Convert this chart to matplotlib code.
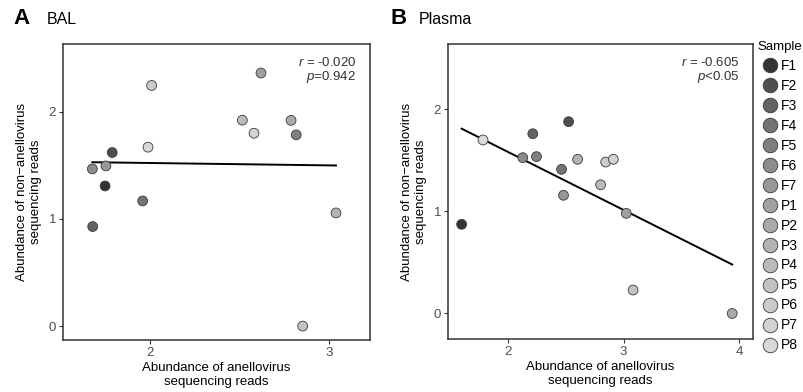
import numpy as np
import matplotlib
matplotlib.use("Agg")
import matplotlib.pyplot as plt
from matplotlib.lines import Line2D

plt.rcParams['font.family'] = ['Liberation Sans', 'DejaVu Sans']
plt.rcParams['mathtext.fontset'] = 'custom'
plt.rcParams['mathtext.rm'] = 'Liberation Sans'
plt.rcParams['mathtext.it'] = 'Liberation Sans:italic'

# --- data ---
samples = ['F1', 'F2', 'F3', 'F4', 'F5', 'F6', 'F7',
           'P1', 'P2', 'P3', 'P4', 'P5', 'P6', 'P7', 'P8']

# BAL: x / y per sample (same order as samples)
bal_x = [1.749, 1.789, 1.680, 1.959, 2.817, 1.678, 1.754,
         2.620, 2.788, 3.039, 2.516, 2.853, 2.009, 2.581, 1.989]
bal_y = [1.308, 1.620, 0.929, 1.168, 1.785, 1.467, 1.495,
         2.362, 1.920, 1.056, 1.922, 0.000, 2.246, 1.800, 1.670]

# Plasma
pla_x = [1.598, 2.524, 2.214, 2.463, 2.246, 2.127, 2.480,
         3.023, 3.940, 2.602, 2.801, 3.082, 2.845, 2.911, 1.783]
pla_y = [0.872, 1.876, 1.758, 1.410, 1.534, 1.524, 1.156,
         0.979, 0.000, 1.508, 1.259, 0.229, 1.481, 1.508, 1.697]

bal_stats = ['-0.020', '=0.942']
pla_stats = ['-0.605', '<0.05']

# ggplot-like grey scale
lv = np.linspace(0.2 ** 2.2, 0.85 ** 2.2, len(samples)) ** (1 / 2.2)
colors = [(v, v, v) for v in lv]

W, H = 804, 392
fig = plt.figure(figsize=(W / 100, H / 100), dpi=100)


def add_axes(l, r, t, b):
    return fig.add_axes([l / W, 1 - b / H, (r - l) / W, (b - t) / H])


def draw_panel(ax, x, y, stats, xlim, ylim, xticks):
    x = np.array(x)
    y = np.array(y)
    k, c = np.polyfit(x, y, 1)
    xs = np.array([x.min(), x.max()])
    ax.plot(xs, k * xs + c, color='black', lw=1.4, zorder=2)
    ax.scatter(x, y, s=50, c=colors, edgecolors='#3a3a3a', linewidths=0.6, zorder=3)
    ax.set_xlim(xlim)
    ax.set_ylim(ylim)
    ax.set_xticks(xticks)
    ax.set_yticks([0, 1, 2])
    for sp in ax.spines.values():
        sp.set_color('#333333')
        sp.set_linewidth(1.1)
    ax.tick_params(length=3, width=0.8, color='#333333', labelcolor='#4d4d4d', labelsize=9.5, pad=2)
    ax.set_xlabel('Abundance of anellovirus\nsequencing reads', fontsize=9.5, labelpad=2)
    ax.set_ylabel('Abundance of non\u2212anellovirus\nsequencing reads', fontsize=9.5, labelpad=5)
    ax.text(0.955, 0.937, r'$\it{r}$ = ' + stats[0], transform=ax.transAxes,
            ha='right', va='center', fontsize=9.5, color='#333333')
    ax.text(0.955, 0.887, r'$\it{p}$' + stats[1], transform=ax.transAxes,
            ha='right', va='center', fontsize=9.5, color='#333333')


axA = add_axes(63, 370, 44, 340)
draw_panel(axA, bal_x, bal_y, bal_stats, (1.514, 3.229), (-0.13, 2.633), [2, 3])
axB = add_axes(448, 753, 44, 339)
draw_panel(axB, pla_x, pla_y, pla_stats, (1.48, 4.12), (-0.25, 2.636), [2, 3, 4])

fig.text(13 / W, 1 - 18 / H, 'A', fontsize=16, fontweight='bold', va='center')
fig.text(47 / W, 1 - 19 / H, 'BAL', fontsize=11.5, va='center')
fig.text(391 / W, 1 - 18 / H, 'B', fontsize=16, fontweight='bold', va='center')
fig.text(419 / W, 1 - 19 / H, 'Plasma', fontsize=11.5, va='center')

handles = [Line2D([], [], marker='o', ls='', markersize=10.5, markerfacecolor=col,
                  markeredgecolor='#3a3a3a', markeredgewidth=0.6) for col in colors]
fig.legend(handles, samples, loc='upper left', bbox_to_anchor=(755 / W, 1 - 38 / H),
           frameon=False, title='Sample', title_fontsize=9.5, fontsize=10,
           handlelength=1.0, handletextpad=0.3, labelspacing=0.43, borderaxespad=0,
           borderpad=0.2)

fig.savefig('out.png', dpi=100)
